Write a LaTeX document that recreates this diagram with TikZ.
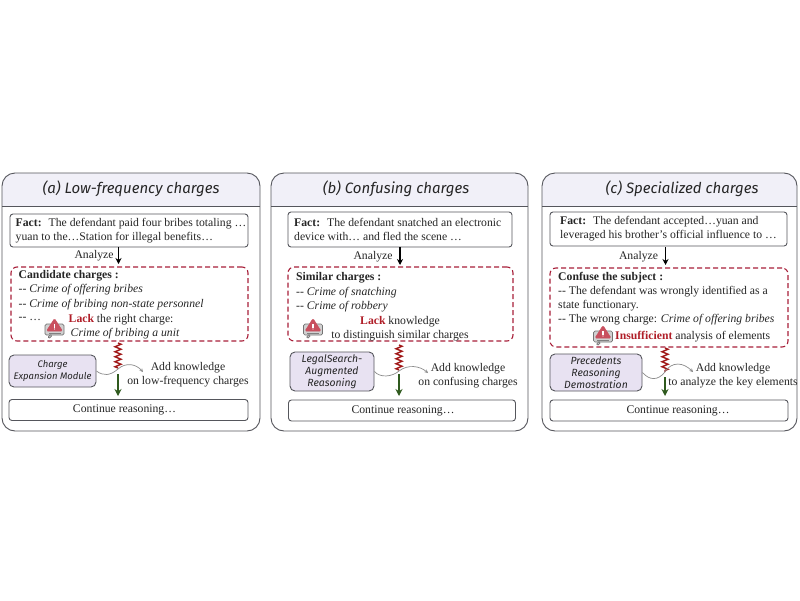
\documentclass[tikz,border=0pt]{standalone}
\usepackage{fontspec}
\setmainfont{Liberation Serif}
\newfontfamily\handfont{Fira Sans}
\usetikzlibrary{decorations.pathmorphing,arrows.meta,positioning}
\definecolor{hdr}{HTML}{F1F0F8}
\definecolor{edge}{HTML}{55565C}
\definecolor{dashred}{HTML}{A8203A}
\definecolor{modfill}{HTML}{E8E2F2}
\definecolor{lackred}{HTML}{B01E28}
\definecolor{zig}{HTML}{A01818}
\definecolor{grn}{HTML}{2F5A1E}
\definecolor{warnred}{HTML}{C9505F}
\tikzset{
 x=1pt,y=-1pt,
 panelbox/.style={draw=edge,line width=0.9pt},
 factbox/.style={draw=edge,line width=0.9pt,rounded corners=3pt,fill=white,minimum height=0pt,inner sep=0pt},
 dashbox/.style={draw=dashred,line width=1.1pt,dashed,dash pattern=on 5pt off 3pt,rounded corners=6pt,inner sep=0pt},
 modbox/.style={draw=edge,line width=0.9pt,rounded corners=5pt,fill=modfill,inner sep=0pt},
 hand/.style={font=\handfont\itshape\fontsize{9.5}{11.2}\selectfont,align=center,text=black!85},
 handb/.style={font=\handfont\itshape\fontsize{10.4}{12}\selectfont,align=center,text=black!85},
 title/.style={font=\handfont\itshape\fontsize{15}{16}\selectfont,text=black!85},
 body/.style={font=\fontsize{11.7}{13.8}\selectfont,align=left,anchor=west,inner sep=0pt,text=black!85},
 anabel/.style={font=\fontsize{11.7}{13.8}\selectfont,inner sep=0pt,text=black!85},
 darrow/.style={-{Stealth[length=6pt,width=6pt]},line width=1.1pt,black},
 garrow/.style={-{Stealth[length=7pt,width=7pt]},line width=1.3pt,grn},
 zigline/.style={zig,line width=1.4pt,decorate,decoration={zigzag,segment length=5pt,amplitude=3pt}},
 curve/.style={-{Stealth[length=3.5pt,width=3.5pt]},draw=black!45,line width=0.7pt},
 warnbubble/.style={draw=black!55,fill=black!18,line width=0.7pt,rounded corners=1.5pt},
 warntri/.style={fill=warnred,draw=warnred,line width=0.5pt,rounded corners=1.2pt},
}
\newcommand{\warnicon}[2]{%
 \begin{scope}[shift={(#1,#2)}]
  \path[warnbubble] (-9.5,-5) rectangle (9.5,6);
  \path[warnbubble] (-6,6) -- (-6,10) -- (-2,6) -- cycle;
  \path[warntri] (0,-10.5) -- (8,2) -- (-8,2) -- cycle;
  \fill[white] (-0.6,-5.5) rectangle (0.6,-1.5);
  \fill[white] (0,0) circle (0.7);
  \fill[black!50] (-6,3.6) rectangle (6,4.4);
 \end{scope}}
\newcommand{\panel}[5]{% x0 x1 name title titlex
 \path[fill=hdr,rounded corners=13pt] (#1,173) -- (#2,173) -- (#2,206) -- (#1,206) -- cycle;
 \fill[hdr] (#1,190) rectangle (#2,206);
 \draw[panelbox,rounded corners=13pt] (#1,173) rectangle (#2,431);
 \draw[panelbox] (#1,206) -- (#2,206);
 \node[title] (#3title) at (#5,189) {#4};
}
\begin{document}
\begin{tikzpicture}
\useasboundingbox (0,0) rectangle (800,600);
\fill[white] (0,0) rectangle (800,600);

%% Panel a
\panel{2}{260}{a}{(a) Low-frequency charges}{131}
\node[factbox,minimum width=238pt,minimum height=33pt] (afact) at (129,230.5) {};
\node[body] (afacttext) at (15.5,230.5) {\textbf{Fact:}\hspace{0.6em}The defendant paid four bribes totaling …\\yuan to the…Station for illegal benefits…};
\node[dashbox,minimum width=237pt,minimum height=74pt] (adash) at (129.5,304) {};
\node[body] (ahead) at (18.5,276) {\textbf{Candidate charges :}};
\node[body] (al1) at (18.5,290) {-{}- \textit{Crime of offering bribes}};
\node[body] (al2) at (18.5,304.5) {-{}- \textit{Crime of bribing non-state personnel}};
\node[body] (al3) at (18.5,319) {-{}- …};
\node[body] (al4) at (68.5,320) {\textcolor{lackred}{\textbf{Lack}} the right charge:};
\node[body] (al5) at (70.5,334) {\textit{Crime of bribing a unit}};
\warnicon{54.5}{329}
\node[anabel] (aan) at (94,256) {Analyze};
\draw[darrow] (118.5,247) -- (118.5,264);
\node[modbox,minimum width=87pt,minimum height=32pt] (amod) at (52.5,371) {};
\node[hand] (amodt) at (52.5,371) {Charge\\Expansion Module};
\coordinate (azt) at (118,343);
\coordinate (azb) at (118,368);
\draw[zigline] (azt) -- (azb);
\draw[curve] (amod.east) .. controls (103,376) and (110,376) .. (118,369) .. controls (126,362) and (136,364) .. (143,372);
\node[body,align=center,anchor=center] (akn) at (188,374.5) {Add knowledge\\on low-frequency charges};
\draw[garrow] (118,374) -- (118,396);
\node[factbox,minimum width=239pt,minimum height=21pt,anchor=center] (acont) at (128.5,410) {};
\node[anabel] (acontt) at (124.5,410) {Continue reasoning…};

%% Panel b
\panel{271}{528}{b}{(b) Confusing charges}{396}
\node[factbox,minimum width=224pt,minimum height=35pt] (bfact) at (400,229.5) {};
\node[body] (bfacttext) at (294,229.5) {\textbf{Fact:}\hspace{0.6em}The defendant snatched an electronic\\device with… and fled the scene …};
\node[dashbox,minimum width=225pt,minimum height=74pt] (bdash) at (400.5,304) {};
\node[body] (bhead) at (296,278) {\textbf{Similar charges :}};
\node[body] (bl1) at (296,292.5) {-{}- \textit{Crime of snatching}};
\node[body] (bl2) at (296,306.5) {-{}- \textit{Crime of robbery}};
\node[body,anchor=center,align=center] (bl3) at (400,329) {\textcolor{lackred}{\textbf{Lack}} knowledge\\to distinguish similar charges};
\warnicon{313}{329}
\node[anabel] (ban) at (373,257) {Analyze};
\draw[darrow] (400,247) -- (400,265);
\node[modbox,minimum width=84pt,minimum height=39pt] (bmod) at (332,371.5) {};
\node[handb] (bmodt) at (332,371.5) {LegalSearch-\\Augmented\\Reasoning};
\coordinate (bzt) at (399,345);
\coordinate (bzb) at (399,370);
\draw[zigline] (bzt) -- (bzb);
\draw[curve] (bmod.east) .. controls (380,378) and (392,377) .. (399,371) .. controls (408,364) and (420,366) .. (428,373);
\node[body,align=center,anchor=center] (bkn) at (468,376) {Add knowledge\\on confusing charges};
\draw[garrow] (399,374) -- (399,396);
\node[factbox,minimum width=227pt,minimum height=21pt] (bcont) at (402,410.5) {};
\node[anabel] (bcontt) at (403,411) {Continue reasoning…};

%% Panel c
\panel{542}{797}{c}{(c) Specialized charges}{682}
\node[factbox,minimum width=237pt,minimum height=34pt] (cfact) at (668.5,229) {};
\node[body] (cfacttext) at (560,229) {\textbf{Fact:}\hspace{0.6em}The defendant accepted…yuan and\\leveraged his brother's official influence to …};
\node[dashbox,minimum width=238pt,minimum height=79pt] (cdash) at (669,307.5) {};
\node[body] (chead) at (558,277.5) {\textbf{Confuse the subject :}};
\node[body] (cl1) at (558,291.5) {-{}- The defendant was wrongly identified as a};
\node[body] (cl2) at (558,305.5) {state functionary.};
\node[body] (cl3) at (558,320) {-{}- The wrong charge: \textit{Crime of offering bribes}};
\node[body] (cl4) at (615,337) {\textcolor{lackred}{\textbf{Insufficient}} analysis of elements};
\warnicon{603}{336}
\node[anabel] (can) at (638.5,257) {Analyze};
\draw[darrow] (665.5,247) -- (665.5,265);
\node[modbox,minimum width=92pt,minimum height=37pt] (cmod) at (596,372.5) {};
\node[handb] (cmodt) at (596,372.5) {Precedents\\Reasoning\\Demostration};
\coordinate (czt) at (665,348);
\coordinate (czb) at (665,372);
\draw[zigline] (czt) -- (czb);
\draw[curve] (cmod.east) .. controls (650,381) and (658,380) .. (664,373) .. controls (672,360) and (684,363) .. (693,372);
\node[body,align=center,anchor=center] (ckn) at (733,376) {Add knowledge\\to analyze the key elements};
\draw[garrow] (665,377) -- (665,396);
\node[factbox,minimum width=238pt,minimum height=21pt] (ccont) at (669,410.5) {};
\node[anabel] (ccontt) at (678,411) {Continue reasoning…};
\end{tikzpicture}
\end{document}
